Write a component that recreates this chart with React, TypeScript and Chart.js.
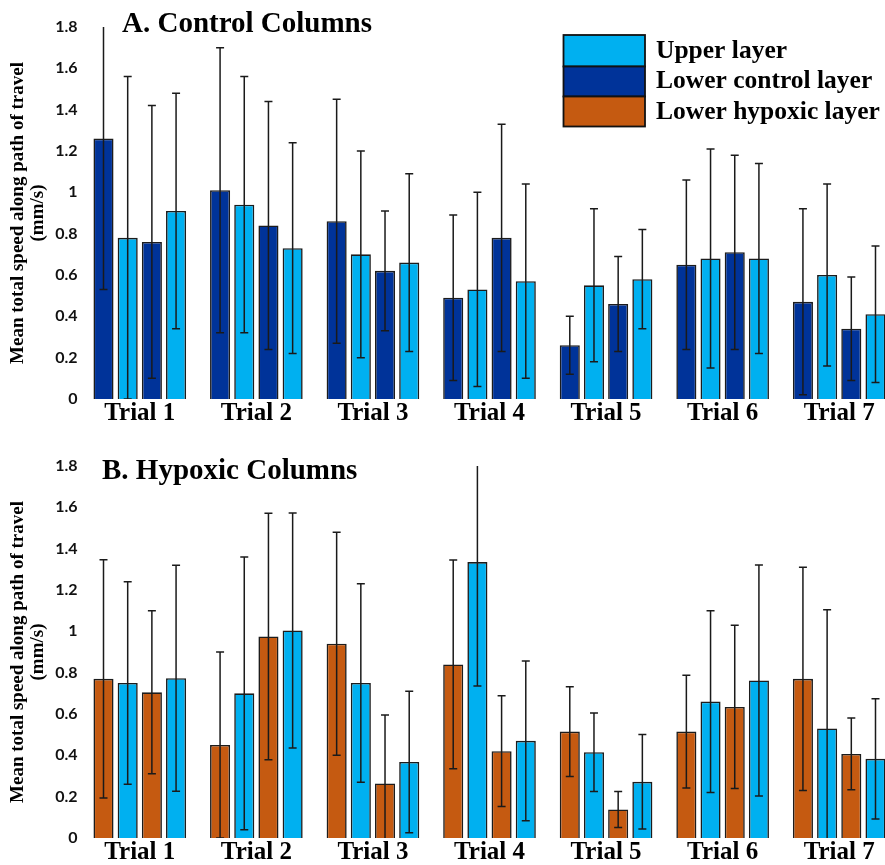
import React, { useEffect, useRef } from "react";
import { Chart, registerables } from "chart.js";

Chart.register(...registerables);

// ---------- data ----------
const trialLabels = ["Trial 1", "Trial 2", "Trial 3", "Trial 4", "Trial 5", "Trial 6", "Trial 7"];
const yTickLabels = ["0", "0.2", "0.4", "0.6", "0.8", "1", "1.2", "1.4", "1.6", "1.8"];

// Panel A: Control columns (bar order per trial: lower, upper, lower, upper)
const ctrlLower1 = [1.26, 1.01, 0.86, 0.49, 0.26, 0.65, 0.47];
const ctrlLower1Sd = [0.73, 0.69, 0.59, 0.4, 0.14, 0.41, 0.45];
const ctrlUpper1 = [0.78, 0.94, 0.7, 0.53, 0.55, 0.68, 0.6];
const ctrlUpper1Sd = [0.78, 0.62, 0.5, 0.47, 0.37, 0.53, 0.44];
const ctrlLower2 = [0.76, 0.84, 0.62, 0.78, 0.46, 0.71, 0.34];
const ctrlLower2Sd = [0.66, 0.6, 0.29, 0.55, 0.23, 0.47, 0.25];
const ctrlUpper2 = [0.91, 0.73, 0.66, 0.57, 0.58, 0.68, 0.41];
const ctrlUpper2Sd = [0.57, 0.51, 0.43, 0.47, 0.24, 0.46, 0.33];

// Panel B: Hypoxic columns (bar order per trial: lower, upper, lower, upper)
const hypLower1 = [0.77, 0.45, 0.94, 0.84, 0.515, 0.515, 0.77];
const hypLower1Sd = [0.576, 0.45, 0.54, 0.505, 0.217, 0.273, 0.54];
const hypUpper1 = [0.75, 0.7, 0.75, 1.335, 0.415, 0.66, 0.53];
const hypUpper1Sd = [0.49, 0.66, 0.48, 0.6, 0.19, 0.44, 0.575];
const hypLower2 = [0.705, 0.975, 0.264, 0.42, 0.138, 0.634, 0.407];
const hypLower2Sd = [0.394, 0.596, 0.331, 0.268, 0.087, 0.395, 0.174];
const hypUpper2 = [0.773, 1.004, 0.368, 0.47, 0.272, 0.762, 0.383];
const hypUpper2Sd = [0.547, 0.568, 0.342, 0.386, 0.229, 0.559, 0.291];

const legendLabels = ["Upper layer", "Lower control layer", "Lower hypoxic layer"];

// ---------- styles ----------
const LIGHT = "#00B0F0";
const DARK = "#003399";
const ORANGE = "#C55A11";
const legendColors = [LIGHT, DARK, ORANGE];
const SERIF = "'Liberation Serif', 'Times New Roman', serif";

const errorBarPlugin = {
  id: "errorBars",
  afterDatasetsDraw(chart: any) {
    const { ctx, chartArea } = chart;
    const y = chart.scales.y;
    ctx.save();
    ctx.beginPath();
    ctx.rect(chartArea.left, chartArea.top, chartArea.right - chartArea.left, chartArea.bottom - chartArea.top);
    ctx.clip();
    ctx.strokeStyle = "#1a1a1a";
    ctx.lineWidth = 1.5;
    chart.data.datasets.forEach((ds: any, i: number) => {
      const meta = chart.getDatasetMeta(i);
      meta.data.forEach((bar: any, j: number) => {
        const m = ds.data[j];
        const hi = m + ds.sd[j];
        const lo = m - ds.sd[j];
        const x = bar.x;
        const yh = y.getPixelForValue(hi);
        const yl = y.getPixelForValue(Math.max(lo, y.min - 0.05));
        ctx.beginPath();
        ctx.moveTo(x, yh);
        ctx.lineTo(x, yl);
        ctx.stroke();
        const cap = 4;
        if (hi <= y.max) {
          ctx.beginPath();
          ctx.moveTo(x - cap, yh);
          ctx.lineTo(x + cap, yh);
          ctx.stroke();
        }
        if (lo >= y.min - 0.001) {
          ctx.beginPath();
          ctx.moveTo(x - cap, yl);
          ctx.lineTo(x + cap, yl);
          ctx.stroke();
        }
      });
    });
    ctx.restore();
  },
};

const decorPlugin = {
  id: "panelDecor",
  afterDraw(chart: any, _args: any, opts: any) {
    const { ctx } = chart;
    ctx.save();
    ctx.fillStyle = "#000";
    ctx.textBaseline = "alphabetic";
    ctx.textAlign = "left";
    ctx.font = `bold 29px ${SERIF}`;
    ctx.fillText(opts.title, opts.titleX, opts.titleBaseline);
    if (opts.legend) {
      const lx = 563.5;
      const tops = [35, 66.5, 96.5];
      const hs = [31.5, 30, 30];
      const baselines = [57.5, 87.5, 118.5];
      ctx.font = `bold 25.5px ${SERIF}`;
      legendLabels.forEach((lab, i) => {
        ctx.fillStyle = legendColors[i];
        ctx.fillRect(lx, tops[i], 81.5, hs[i]);
        ctx.strokeStyle = "#111";
        ctx.lineWidth = 1.8;
        ctx.strokeRect(lx, tops[i], 81.5, hs[i]);
        ctx.fillStyle = "#000";
        ctx.fillText(lab, 656, baselines[i]);
      });
    }
    ctx.restore();
  },
};

function makeDataset(label: string, data: number[], sd: number[], color: string) {
  return {
    label,
    data,
    sd,
    backgroundColor: color,
    borderColor: "#1c1c1c",
    borderWidth: 1.6,
    categoryPercentage: 0.83,
    barPercentage: 0.83,
  } as any;
}

function makeConfig(datasets: any[], title: string, titleX: number, titleBaseline: number, legend: boolean): any {
  return {
    type: "bar",
    data: { labels: trialLabels, datasets },
    plugins: [errorBarPlugin, decorPlugin],
    options: {
      responsive: false,
      animation: false,
      devicePixelRatio: 1,
      layout: { padding: { top: 27, right: 2.5, bottom: 0, left: 0 } },
      plugins: {
        legend: { display: false },
        tooltip: { enabled: false },
        title: { display: false },
        panelDecor: { title, titleX, titleBaseline, legend },
      },
      scales: {
        x: {
          grid: { display: false, drawTicks: false },
          border: { display: false },
          ticks: {
            padding: 2,
            color: "#000",
            font: { family: SERIF, weight: "bold", size: 25, lineHeight: 1 },
            maxRotation: 0,
            autoSkip: false,
          },
          afterFit: (s: any) => {
            s.height = 41;
          },
        },
        y: {
          min: 0,
          max: 1.8,
          grid: { display: false, drawTicks: false },
          border: { display: false },
          ticks: {
            stepSize: 0.2,
            padding: 4,
            color: "#111",
            font: { family: "Lato, 'Open Sans', sans-serif", weight: "bold", size: 16 },
            callback: (_v: any, i: number) => yTickLabels[i],
          },
          title: {
            display: true,
            text: ["Mean total speed along path of travel", "(mm/s)"],
            color: "#000",
            font: { family: SERIF, weight: "bold", size: 19, lineHeight: 1.05 },
            padding: { top: 8, bottom: 0 },
          },
          afterFit: (s: any) => {
            s.width = 81.5;
          },
        },
      },
    },
  };
}

function Panel({ top, config }: { top: number; config: () => any }) {
  const ref = useRef<HTMLCanvasElement | null>(null);
  useEffect(() => {
    if (!ref.current) return;
    const chart = new Chart(ref.current, config());
    return () => chart.destroy();
  }, []);
  return (
    <div style={{ position: "absolute", left: 0, top, width: 900, height: 440 }}>
      <canvas ref={ref} width={900} height={440} style={{ display: "block" }} />
    </div>
  );
}

export default function App() {
  const controlConfig = () =>
    makeConfig(
      [
        makeDataset("Lower control layer", ctrlLower1, ctrlLower1Sd, DARK),
        makeDataset("Upper layer", ctrlUpper1, ctrlUpper1Sd, LIGHT),
        makeDataset("Lower control layer", ctrlLower2, ctrlLower2Sd, DARK),
        makeDataset("Upper layer", ctrlUpper2, ctrlUpper2Sd, LIGHT),
      ],
      "A. Control Columns",
      122,
      31.5,
      true
    );
  const hypoxicConfig = () =>
    makeConfig(
      [
        makeDataset("Lower hypoxic layer", hypLower1, hypLower1Sd, ORANGE),
        makeDataset("Upper layer", hypUpper1, hypUpper1Sd, LIGHT),
        makeDataset("Lower hypoxic layer", hypLower2, hypLower2Sd, ORANGE),
        makeDataset("Upper layer", hypUpper2, hypUpper2Sd, LIGHT),
      ],
      "B. Hypoxic Columns",
      102,
      40,
      false
    );
  return (
    <div
      style={{
        position: "fixed",
        left: 0,
        top: 0,
        width: 885,
        height: 865,
        overflow: "hidden",
        background: "#fff",
      }}
    >
      <Panel top={0} config={controlConfig} />
      <Panel top={439} config={hypoxicConfig} />
    </div>
  );
}
